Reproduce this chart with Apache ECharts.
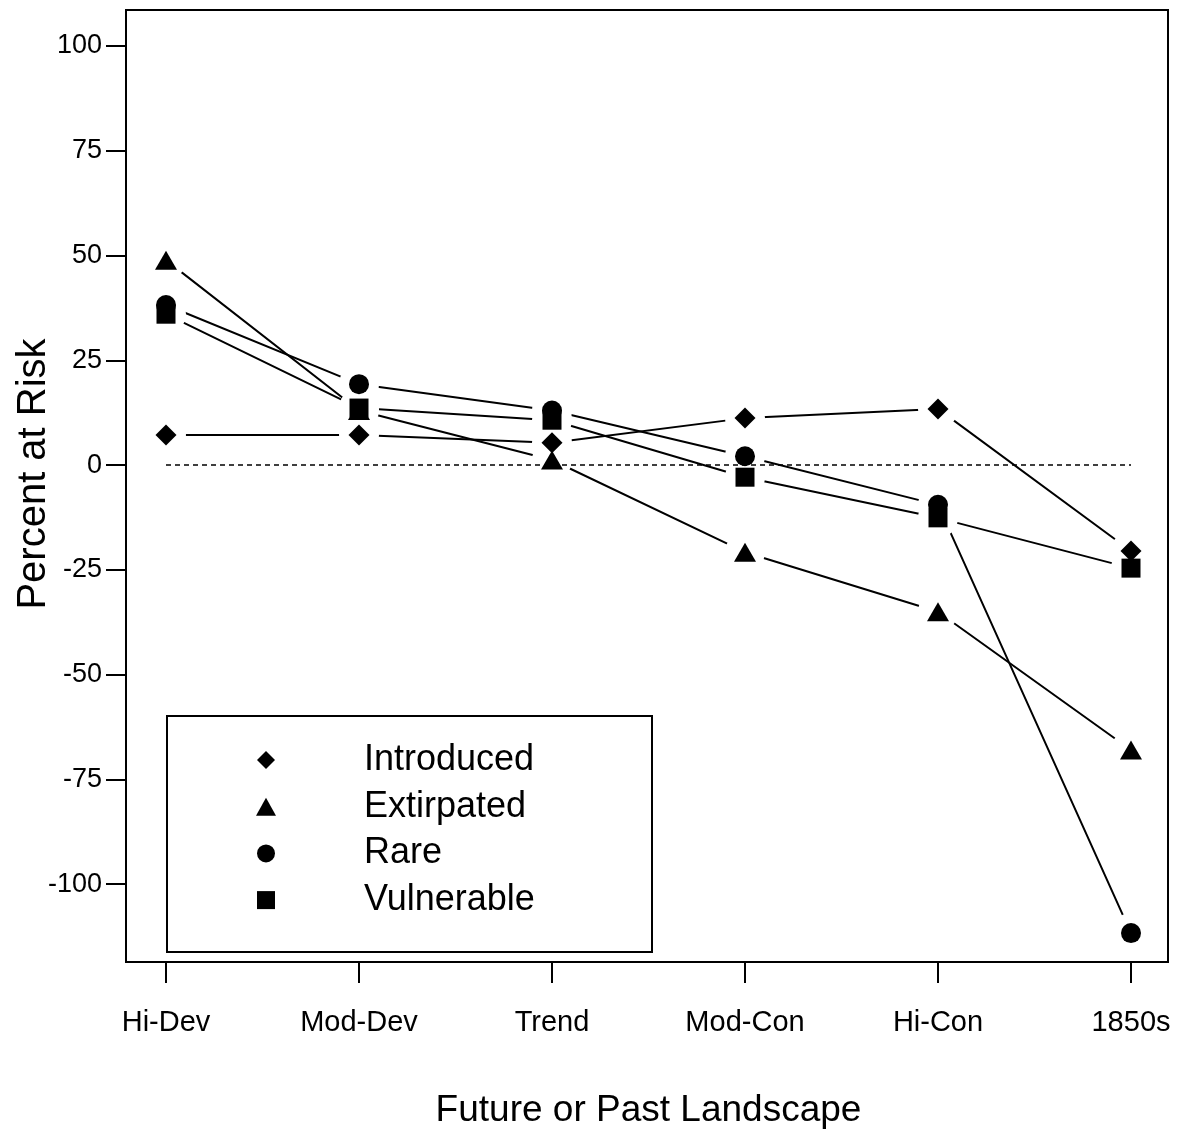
<!DOCTYPE html>
<html>
<head>
<meta charset="utf-8">
<script src="https://cdn.jsdelivr.net/npm/echarts@6/dist/echarts.min.js"></script>
<style>
html,body{margin:0;padding:0;background:#fff;}
#chart{width:1179px;height:1134px;}
</style>
</head>
<body>
<div id="chart"></div>
<script>
const categories = ['Hi-Dev', 'Mod-Dev', 'Trend', 'Mod-Con', 'Hi-Con', '1850s'];
const introduced = [7.2, 7.2, 5.3, 11.2, 13.4, -20.5];
const extirpated = [48.9, 13, 1.2, -20.8, -35, -68];
const rare = [38.2, 19.3, 13, 2.1, -9.5, -111.7];
const vulnerable = [36, 13.6, 10.7, -2.9, -12.6, -24.6];
const yTicks = [-100, -75, -50, -25, 0, 25, 50, 75, 100];
const seriesNames = ['Introduced', 'Extirpated', 'Rare', 'Vulnerable'];

const FONT = 'Liberation Sans, Arial, Helvetica, sans-serif';
const seriesData = [introduced, extirpated, rare, vulnerable];
const symbols = ['diamond', 'triangle', 'circle', 'rect'];
const legendIcons = [
  'path://M0,-1L1,0L0,1L-1,0Z',
  'path://M0,-1L1,0.8L-1,0.8Z',
  'circle',
  'path://M0,0L1,0L1,1L0,1Z'
];
const sizes = [[21, 21], [22, 19], [20, 20], [19, 19]];

const series = [];
// line layer
seriesData.forEach((d, i) => {
  series.push({
    name: seriesNames[i], type: 'line', data: d, xAxisIndex: 0, yAxisIndex: 0,
    showSymbol: false, symbol: 'none', z: 2, silent: true,
    lineStyle: {color: '#000', width: 2}, itemStyle: {color: '#000'},
    animation: false
  });
});
// white halo layer (creates gaps between lines and markers)
seriesData.forEach((d, i) => {
  series.push({
    name: seriesNames[i], type: 'scatter', data: d, xAxisIndex: 0, yAxisIndex: 0,
    symbol: 'circle', symbolSize: 40, z: 3, silent: true,
    itemStyle: {color: '#fff', opacity: 1}, animation: false
  });
});
// black marker layer
seriesData.forEach((d, i) => {
  const s = {
    name: seriesNames[i], type: 'scatter', data: d, xAxisIndex: 0, yAxisIndex: 0,
    symbol: symbols[i], symbolSize: sizes[i], z: 4, silent: true,
    itemStyle: {color: '#000', opacity: 1}, animation: false
  };
  if (i === 0) {
    s.markLine = {
      silent: true, symbol: 'none', label: {show: false},
      lineStyle: {color: '#000', width: 1.5, type: [5, 4]},
      data: [{yAxis: 0}], animation: false
    };
  }
  series.push(s);
});

const chart = echarts.init(document.getElementById('chart'), null, {renderer: 'canvas'});
chart.setOption({
  backgroundColor: '#fff',
  animation: false,
  textStyle: {fontFamily: FONT, color: '#000'},
  grid: [
    {left: 166, right: 48, top: 10, bottom: 172, outerBoundsMode: 'none', containLabel: false},
    {left: 126, right: 11, top: 10, bottom: 172, outerBoundsMode: 'none', containLabel: false,
     show: true, borderColor: '#000', borderWidth: 2, backgroundColor: 'transparent'}
  ],
  xAxis: [
    {
      type: 'category', data: categories, boundaryGap: false, gridIndex: 0,
      axisLine: {show: false, onZero: false},
      axisTick: {show: true, length: 21, lineStyle: {color: '#000', width: 2}},
      axisLabel: {color: '#000', fontSize: 29, margin: 46, fontFamily: FONT},
      splitLine: {show: false},
      name: 'Future or Past Landscape', nameLocation: 'middle', nameGap: 130, nameMoveOverlap: false,
      nameTextStyle: {fontSize: 37, color: '#000', fontFamily: FONT}
    },
    {type: 'value', gridIndex: 1, show: false, min: 0, max: 1}
  ],
  yAxis: [
    {
      type: 'value', gridIndex: 0, min: -118.6, max: 108.6, offset: 40,
      axisLine: {show: true, onZero: false, lineStyle: {color: '#000', width: 2}},
      axisTick: {show: true, length: 20, customValues: yTicks, lineStyle: {color: '#000', width: 2}},
      axisLabel: {color: '#000', fontSize: 27, margin: 24, customValues: yTicks, fontFamily: FONT},
      splitLine: {show: false},
      name: 'Percent at Risk', nameLocation: 'middle', nameGap: 72, nameRotate: 90, nameMoveOverlap: false,
      nameTextStyle: {fontSize: 40, color: '#000', fontFamily: FONT, padding: [0, 0, 0, 24]}
    },
    {type: 'value', gridIndex: 1, show: false, min: 0, max: 1}
  ],
  legend: {
    orient: 'vertical', left: 256, top: 742, padding: 0,
    itemWidth: 186, itemHeight: 18, itemGap: 10.7, selectedMode: false,
    textStyle: {fontSize: 36, lineHeight: 36, color: '#000', fontFamily: FONT},
    data: seriesNames.map((n, i) => ({
      name: n, icon: legendIcons[i], symbolKeepAspect: true,
      itemStyle: {color: '#000', borderWidth: 0}
    }))
  },
  graphic: [{
    type: 'rect', left: 166, top: 715, z: 10, silent: true,
    shape: {width: 485, height: 236},
    style: {fill: 'transparent', stroke: '#000', lineWidth: 2}
  }],
  series: series
});
</script>
</body>
</html>
